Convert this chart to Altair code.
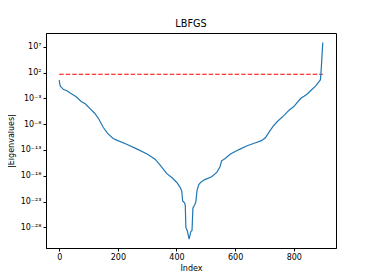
import altair as alt
import pandas as pd

# Eigenvalue magnitude curve (index, value)
idx = [0, 2, 4, 8, 15, 25, 35, 47, 58, 75, 90, 105, 121, 135, 150, 165, 184, 200,
       230, 264, 300, 327, 345, 367, 385, 401, 413, 418, 421, 428, 430, 432, 437,
       443, 449, 453, 456, 462, 466, 470, 476, 484, 495, 520, 538, 548, 554, 565,
       584, 615, 641, 670, 690, 704, 715, 730, 744, 765, 784, 800, 824, 835, 847,
       860, 875, 888, 891, 894, 897, 899]
vals = [3.2e0, 6.3e-1, 2.0e-1, 1.3e-1, 5.0e-2, 3.2e-2, 1.3e-2, 5.0e-3, 2.0e-3,
        2.5e-4, 7.9e-5, 1.0e-5, 1.3e-6, 1.0e-7, 2.5e-9, 1.6e-10, 1.6e-11, 6.3e-12,
        1.3e-12, 1.6e-13, 1.6e-14, 1.6e-15, 1.0e-16, 2.5e-18, 4.0e-19, 5.0e-20,
        5.0e-21, 1.0e-21, 1.3e-23, 5.0e-24, 1.6e-24, 1.0e-28, 2.0e-29,
        5.0e-31, 1.6e-29, 2.5e-29, 5.0e-25, 2.5e-24, 7.9e-24, 1.3e-21, 2.0e-20,
        6.3e-20, 1.6e-19, 6.3e-19, 5.0e-18, 5.0e-17, 7.9e-16, 2.0e-15,
        1.6e-14, 1.3e-13, 6.3e-13, 2.5e-12, 6.3e-12, 2.5e-11, 2.5e-10, 4.0e-9,
        3.2e-8, 4.0e-7, 5.0e-6, 2.5e-5, 1.0e-3, 2.5e-3, 7.9e-3,
        4.0e-2, 2.5e-1, 2.5e0, 4.0e0, 1.0e3, 1.0e6, 6.3e7]

ref_x = [0, 899]
ref_level = 46.0

x_ticks = [0, 200, 400, 600, 800]
y_exps = [7, 2, -3, -8, -13, -18, -23, -28]

sup_map = {"-": "\u207b", "0": "\u2070", "1": "\u00b9", "2": "\u00b2", "3": "\u00b3",
           "4": "\u2074", "5": "\u2075", "6": "\u2076", "7": "\u2077", "8": "\u2078",
           "9": "\u2079"}


def sup(e):
    return "10" + "".join(sup_map[c] for c in str(e))


label_expr = "''"
for e in reversed(y_exps):
    label_expr = f"round(log(datum.value)/LN10) == {e} ? '{sup(e)}' : ({label_expr})"

df = pd.DataFrame({"Index": idx, "Eig": vals})
ref = pd.DataFrame({"Index": ref_x, "Eig": [ref_level] * len(ref_x)})

xscale = alt.Scale(domain=[-45, 944], nice=False, zero=False)
yscale = alt.Scale(type="log", domain=[1e-32, 4.5e9], nice=False)

xaxis = alt.Axis(values=x_ticks, title="Index", titlePadding=3)
yaxis = alt.Axis(values=[10.0 ** e for e in y_exps], labelExpr=label_expr,
                 title="|Eigenvalues|", titlePadding=5)

line = alt.Chart(df).mark_line(color="#1f77b4", strokeWidth=1.2, clip=True).encode(
    x=alt.X("Index:Q", scale=xscale, axis=xaxis),
    y=alt.Y("Eig:Q", scale=yscale, axis=yaxis),
)

dashed = alt.Chart(ref).mark_line(color="#ff0000", strokeWidth=1.2,
                                  strokeDash=[4.5, 2]).encode(
    x=alt.X("Index:Q", scale=xscale),
    y=alt.Y("Eig:Q", scale=yscale),
)

chart = (dashed + line).properties(
    width=290,
    height=215,
    title=alt.TitleParams("LBFGS", fontSize=9.7, fontWeight="normal",
                          font="DejaVu Sans", color="black", offset=4),
    autosize=alt.AutoSizeParams(type="none"),
    padding={"left": 38, "top": 25, "right": 10, "bottom": 32},
).configure_view(
    stroke="black", strokeWidth=1
).configure_axis(
    grid=False, domainColor="black", tickColor="black", tickSize=3,
    labelFont="DejaVu Sans", labelFontSize=8, labelColor="black", labelPadding=2,
    titleFont="DejaVu Sans", titleFontSize=8, titleFontWeight="normal",
    titleColor="black"
)

chart.save("out.html", embed_options={"renderer": "svg", "actions": False})
